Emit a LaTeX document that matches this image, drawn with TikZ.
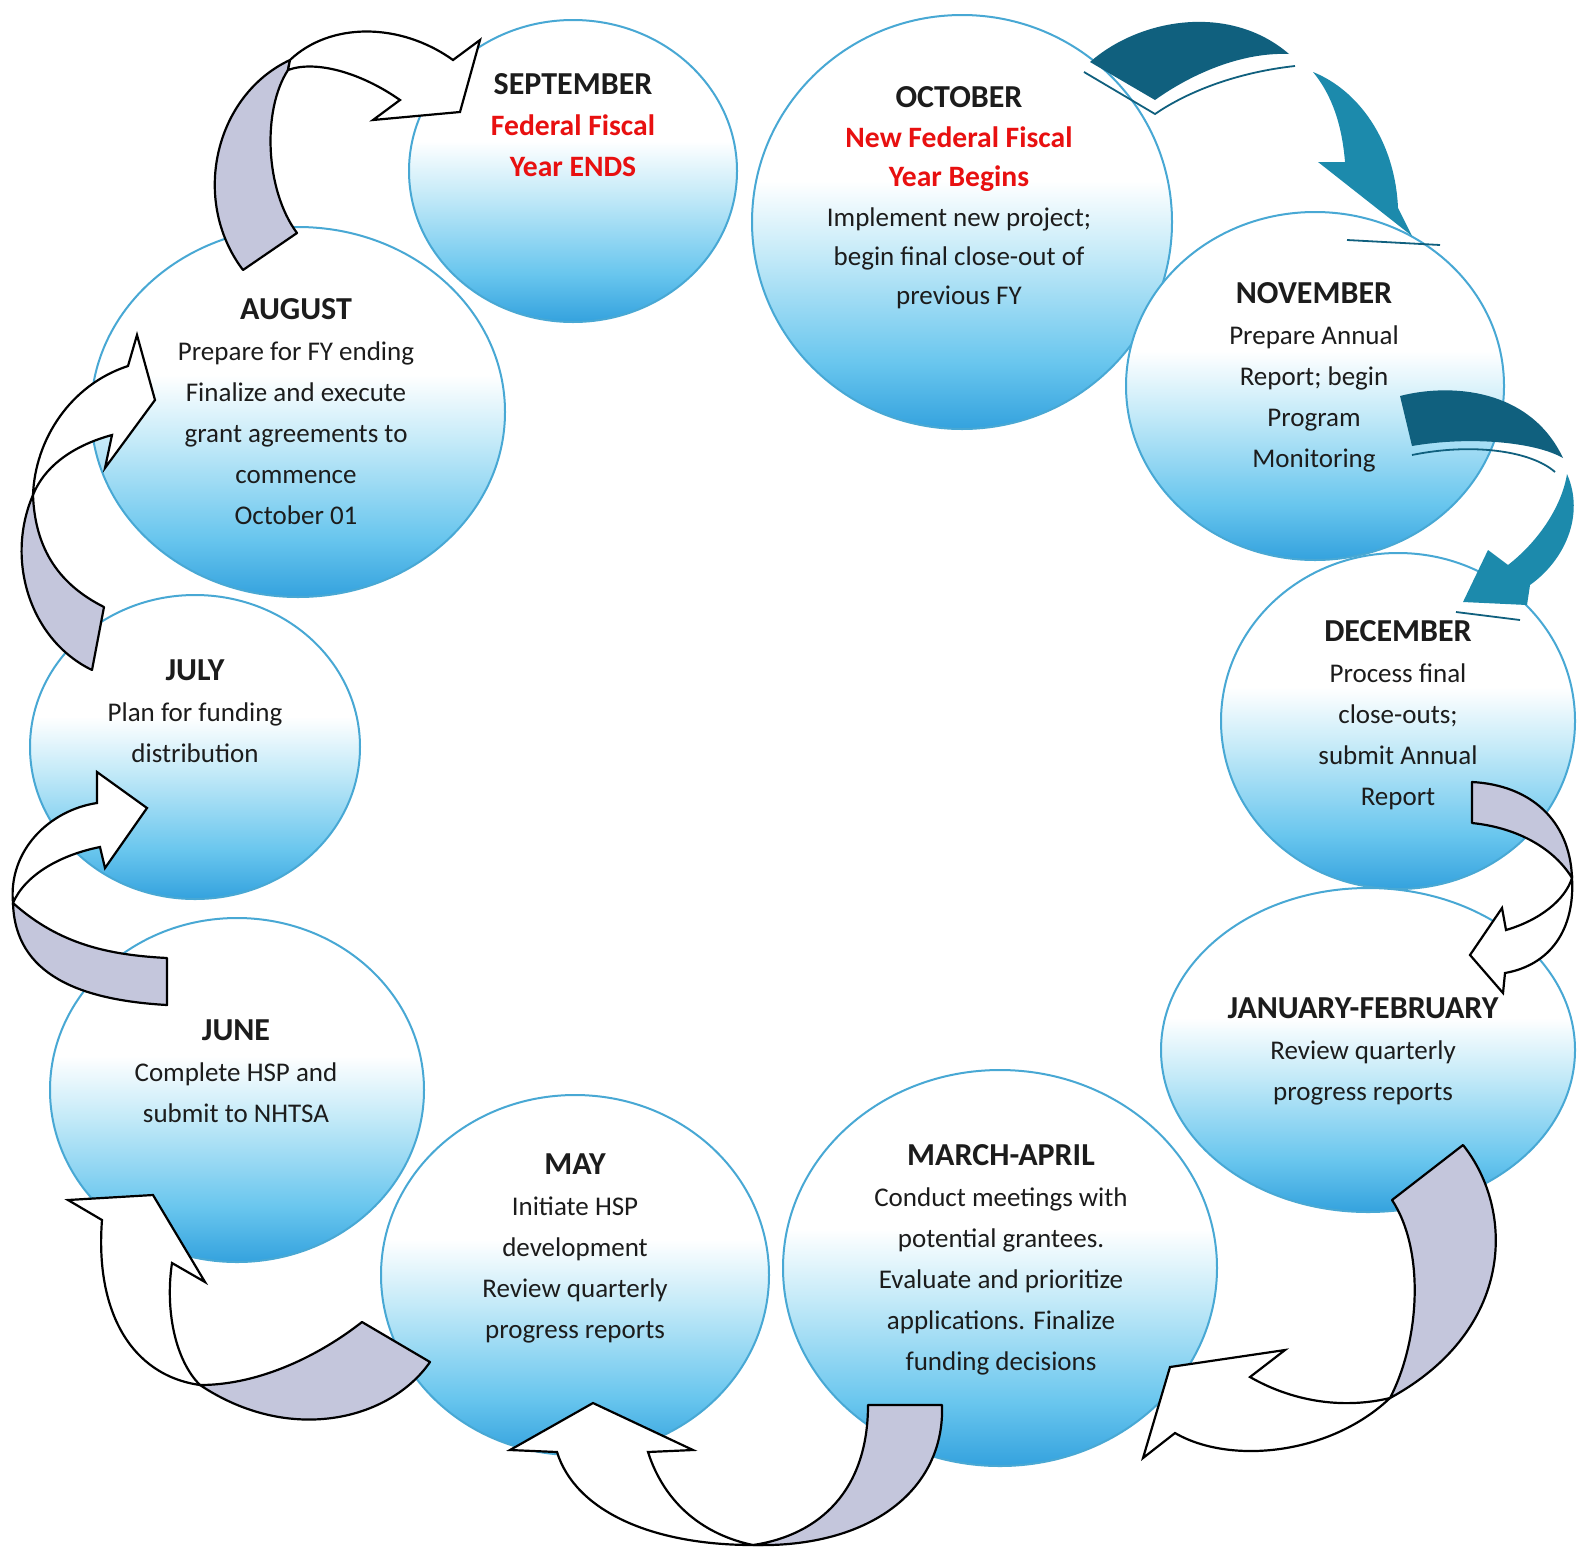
\documentclass[tikz,border=0pt]{standalone}
\usepackage{fontspec}
\setmainfont{Carlito}
\usetikzlibrary{shapes.geometric}

\definecolor{bubbleRim}{RGB}{72,168,212}
\definecolor{bubbleDeep}{RGB}{52,162,222}
\definecolor{bubbleLow}{RGB}{105,198,238}
\definecolor{bubbleMid}{RGB}{196,234,248}
\definecolor{ribbonGrey}{RGB}{196,198,220}
\definecolor{tealDark}{RGB}{16,96,126}
\definecolor{tealLight}{RGB}{28,138,172}
\definecolor{fiscalRed}{RGB}{232,16,16}
\definecolor{inkText}{RGB}{28,28,28}

\pgfdeclareverticalshading{bubbleshade}{100bp}{color(0bp)=(bubbleDeep); color(25bp)=(bubbleDeep); color(33bp)=(bubbleLow); color(46bp)=(bubbleMid); color(55bp)=(white); color(100bp)=(white)}

\newcommand{\monthname}[1]{{\fontsize{16}{20.5}\selectfont\bfseries #1}}
\newcommand{\fiscalline}[1]{{\fontsize{14.8}{20.5}\selectfont\bfseries\color{fiscalRed}#1}}

\begin{document}
\begin{tikzpicture}[x=0.5pt, y=-0.5pt,
  month bubble/.style={ellipse, draw=bubbleRim, line width=1pt, shade, shading=bubbleshade, inner sep=0pt},
  month text/.style={align=center, text=inkText, font=\fontsize{13.5}{20.5}\selectfont},
  tight text/.style={month text, font=\fontsize{13.5}{19.7}\selectfont},
  ribbon back/.style={fill=ribbonGrey, draw=black, line width=1.1pt, line join=round},
  ribbon front/.style={fill=white, draw=black, line width=1.1pt, line join=miter},
  teal tail/.style={fill=tealDark},
  teal head/.style={fill=tealLight},
  teal edge/.style={draw=tealDark, line width=0.9pt}]

\fill[white] (0,0) rectangle (1583,1553);
\useasboundingbox (0,0) rectangle (1583,1553);

\node[month bubble, minimum width=164pt, minimum height=151pt] (sep) at (573,171) {};
\node[month bubble, minimum width=210pt, minimum height=207pt] (oct) at (962,222) {};
\node[month bubble, minimum width=189pt, minimum height=174pt] (nov) at (1315,386) {};
\node[month bubble, minimum width=177pt, minimum height=168pt] (dec) at (1398,721) {};
\node[month bubble, minimum width=207pt, minimum height=162pt] (jan) at (1368,1050) {};
\node[month bubble, minimum width=217pt, minimum height=198pt] (mar) at (1000,1268) {};
\node[month bubble, minimum width=194pt, minimum height=180pt] (may) at (575,1275) {};
\node[month bubble, minimum width=187pt, minimum height=172pt] (jun) at (237,1090) {};
\node[month bubble, minimum width=165pt, minimum height=152pt] (jul) at (195,747) {};
\node[month bubble, minimum width=207pt, minimum height=185pt] (aug) at (298,412) {};

\node[month text] (sepText) at (573,125) {\monthname{SEPTEMBER}\\ \fiscalline{Federal Fiscal}\\ \fiscalline{Year ENDS}};
\node[tight text] (octText) at (959,198) {\monthname{OCTOBER}\\ \fiscalline{New Federal Fiscal}\\ \fiscalline{Year Begins}\\ Implement new project;\\ begin final close-out of\\ previous FY};
\node[month text] (novText) at (1314,377) {\monthname{NOVEMBER}\\ Prepare Annual\\ Report; begin\\ Program\\ Monitoring};
\node[month text] (decText) at (1398,715) {\monthname{DECEMBER}\\ Process final\\ close-outs;\\ submit Annual\\ Report};
\node[month text] (janText) at (1363,1051) {\monthname{JANUARY-FEBRUARY}\\ Review quarterly\\ progress reports};
\node[month text] (marText) at (1001,1260) {\monthname{MARCH-APRIL}\\ Conduct meetings with\\ potential grantees.\\ Evaluate and prioritize\\ applications. Finalize\\ funding decisions};
\node[month text] (mayText) at (575,1248) {\monthname{MAY}\\ Initiate HSP\\ development\\ Review quarterly\\ progress reports};
\node[month text] (junText) at (236,1071) {\monthname{JUNE}\\ Complete HSP and\\ submit to NHTSA};
\node[month text] (julText) at (195,711) {\monthname{JULY}\\ Plan for funding\\ distribution};
\node[month text] (augText) at (296,412) {\monthname{AUGUST}\\ Prepare for FY ending\\ Finalize and execute\\ grant agreements to\\ commence\\ October 01};

% august -> september
\path[ribbon back] (243,270) -- (297,233) .. controls (265,190) and (262,110) .. (288,70) -- (290,60) .. controls (215,95) and (190,200) .. (243,270) -- cycle;
\path[ribbon front] (290,60) .. controls (330,22) and (400,22) .. (453,60) -- (480,40) -- (460,112) -- (373,120) -- (400,100) .. controls (360,72) and (315,60) .. (288,70) -- cycle;

% october -> november
\path[teal tail] (1090,62) .. controls (1140,18) and (1230,3) .. (1289,54) .. controls (1240,52) and (1190,75) .. (1155,100) -- cycle;
\path[teal edge] (1084,72) -- (1155,114) .. controls (1190,90) and (1240,72) .. (1295,66);
\path[teal head] (1313,72) .. controls (1358,90) and (1395,140) .. (1398,208) -- (1412,236) -- (1318,162) -- (1345,162) .. controls (1342,125) and (1332,95) .. (1313,72) -- cycle;
\path[teal edge] (1347,240) -- (1440,245);

% november -> december
\path[teal tail] (1400,396) .. controls (1450,383) and (1530,388) .. (1563,458) .. controls (1535,442) and (1470,436) .. (1412,446) -- cycle;
\path[teal edge] (1412,455) .. controls (1470,443) and (1530,450) .. (1555,472);
\path[teal head] (1567,474) .. controls (1585,515) and (1565,560) .. (1530,585) -- (1527,605) -- (1463,602) -- (1488,550) -- (1508,565) .. controls (1540,540) and (1562,505) .. (1567,474) -- cycle;
\path[teal edge] (1456,612) -- (1520,620);

% december -> january
\path[ribbon back] (1472,782) .. controls (1530,785) and (1570,820) .. (1572,878) .. controls (1555,850) and (1520,828) .. (1472,823) -- cycle;
\path[ribbon front] (1572,878) .. controls (1575,930) and (1550,965) .. (1505,973) -- (1503,993) -- (1470,955) -- (1502,908) -- (1506,930) .. controls (1540,920) and (1565,900) .. (1572,878) -- cycle;

% january -> march
\path[ribbon back] (1392,1200) -- (1463,1145) .. controls (1515,1210) and (1515,1330) .. (1390,1398) .. controls (1420,1340) and (1425,1250) .. (1392,1200) -- cycle;
\path[ribbon front] (1390,1398) .. controls (1340,1410) and (1290,1400) .. (1250,1377) -- (1285,1350) -- (1170,1367) -- (1143,1458) -- (1175,1433) .. controls (1230,1465) and (1330,1455) .. (1390,1398) -- cycle;

% march -> may
\path[ribbon back] (868,1405) -- (942,1405) .. controls (945,1490) and (870,1548) .. (753,1545) .. controls (820,1535) and (868,1490) .. (868,1405) -- cycle;
\path[ribbon front] (753,1545) .. controls (650,1545) and (575,1510) .. (557,1452) -- (510,1450) -- (593,1403) -- (693,1450) -- (648,1452) .. controls (665,1505) and (705,1535) .. (753,1545) -- cycle;

% may -> june
\path[ribbon back] (200,1385) .. controls (260,1385) and (320,1355) .. (362,1322) -- (430,1362) .. controls (390,1420) and (290,1445) .. (200,1385) -- cycle;
\path[ribbon front] (200,1385) .. controls (130,1375) and (95,1310) .. (102,1220) -- (68,1200) -- (153,1195) -- (205,1282) -- (172,1263) .. controls (165,1310) and (175,1360) .. (200,1385) -- cycle;

% june -> july
\path[ribbon back] (13,903) .. controls (60,945) and (110,955) .. (167,958) -- (167,1005) .. controls (80,1000) and (15,975) .. (13,903) -- cycle;
\path[ribbon front] (13,903) .. controls (8,850) and (50,810) .. (97,803) -- (97,772) -- (147,808) -- (105,868) -- (100,847) .. controls (60,855) and (25,875) .. (13,903) -- cycle;

% july -> august
\path[ribbon back] (33,495) .. controls (35,550) and (60,585) .. (104,607) -- (92,670) .. controls (30,640) and (5,560) .. (33,495) -- cycle;
\path[ribbon front] (33,495) .. controls (35,440) and (70,385) .. (128,366) -- (137,335) -- (155,400) -- (105,468) -- (112,435) .. controls (75,445) and (45,465) .. (33,495) -- cycle;

\end{tikzpicture}
\end{document}
